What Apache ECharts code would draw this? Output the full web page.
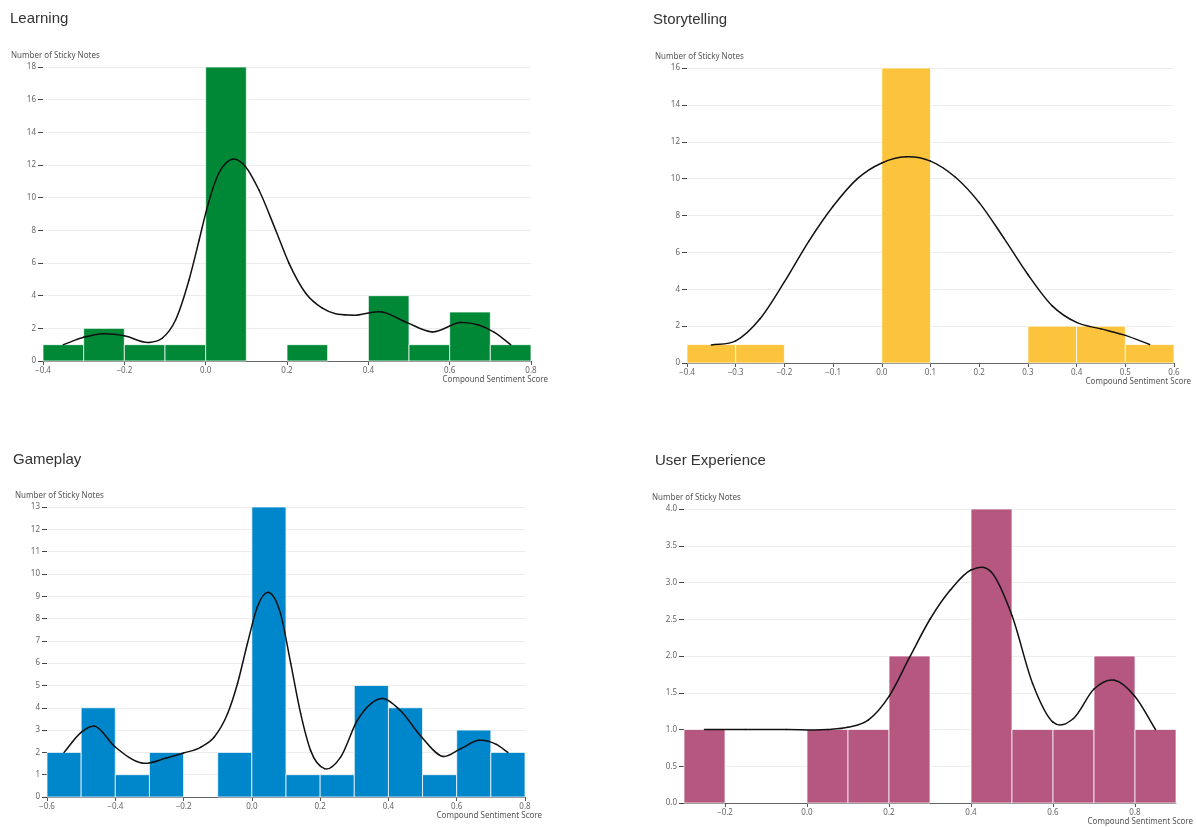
<!DOCTYPE html>
<html>
<head>
<meta charset="utf-8">
<title>Sentiment histograms by theme</title>
<script src="https://cdn.jsdelivr.net/npm/echarts@6/dist/echarts.min.js"></script>
<style>
  html, body { margin: 0; padding: 0; background: #fff; }
  #chart { width: 1197px; height: 827px; }
</style>
</head>
<body>
<div id="chart"></div>
<script>
// ---- Learning ----
const learningBinStarts = [-0.4, -0.3, -0.2, -0.1, 0.0, 0.1, 0.2, 0.3, 0.4, 0.5, 0.6, 0.7];
const learningCounts    = [1, 2, 1, 1, 18, 0, 1, 0, 4, 1, 3, 1];
const learningCurveX = [-0.35, -0.30, -0.25, -0.20, -0.139, -0.107, -0.074, -0.041, -0.016, 0.0, 0.025, 0.065, 0.098, 0.131, 0.172, 0.205, 0.246, 0.287, 0.36, 0.434, 0.495, 0.557, 0.627, 0.671, 0.71, 0.75];
const learningCurveY = [1.0, 1.45, 1.67, 1.55, 1.14, 1.39, 2.51, 4.96, 7.41, 9.04, 11.08, 12.35, 11.9, 10.47, 8.02, 5.98, 4.15, 3.23, 2.8, 3.0, 2.35, 1.78, 2.35, 2.2, 1.75, 1.0];

// ---- Storytelling ----
const storyBinStarts = [-0.4, -0.3, -0.2, -0.1, 0.0, 0.1, 0.2, 0.3, 0.4, 0.5];
const storyCounts    = [1, 1, 0, 0, 16, 0, 0, 2, 2, 1];
const storyCurveX = [-0.35, -0.30, -0.25, -0.20, -0.15, -0.10, -0.05, 0.00, 0.05, 0.10, 0.15, 0.20, 0.25, 0.30, 0.35, 0.40, 0.45, 0.50, 0.55];
const storyCurveY = [0.98, 1.2, 2.4, 4.4, 6.6, 8.5, 10.0, 10.85, 11.18, 10.95, 10.1, 8.7, 6.8, 4.8, 3.1, 2.2, 1.85, 1.5, 1.0];

// ---- Gameplay ----
const gameBinStarts = [-0.6, -0.5, -0.4, -0.3, -0.2, -0.1, 0.0, 0.1, 0.2, 0.3, 0.4, 0.5, 0.6, 0.7];
const gameCounts    = [2, 4, 1, 2, 0, 2, 13, 1, 1, 5, 4, 1, 3, 2];
const gameCurveX = [-0.55, -0.50, -0.462, -0.40, -0.322, -0.25, -0.20, -0.149, -0.110, -0.071, -0.042, -0.013, 0.016, 0.05, 0.084, 0.114, 0.143, 0.172, 0.213, 0.26, 0.309, 0.35, 0.382, 0.434, 0.497, 0.56, 0.612, 0.664, 0.716, 0.75];
const gameCurveY = [2.0, 2.9, 3.18, 2.24, 1.52, 1.75, 1.97, 2.24, 2.69, 3.74, 5.09, 6.88, 8.52, 9.17, 8.22, 5.98, 3.74, 2.09, 1.27, 1.79, 3.44, 4.2, 4.41, 3.89, 2.69, 1.82, 2.17, 2.54, 2.36, 2.0];

// ---- User Experience ----
const uxBinStarts = [-0.3, -0.2, -0.1, 0.0, 0.1, 0.2, 0.3, 0.4, 0.5, 0.6, 0.7, 0.8];
const uxCounts    = [1, 0, 0, 1, 1, 2, 0, 4, 1, 1, 2, 1];
const uxCurveX = [-0.25, -0.15, -0.05, 0.05, 0.10, 0.15, 0.20, 0.25, 0.30, 0.35, 0.40, 0.45, 0.50, 0.55, 0.60, 0.65, 0.70, 0.75, 0.80, 0.85];
const uxCurveY = [1.0, 1.0, 1.0, 1.0, 1.03, 1.13, 1.45, 1.98, 2.5, 2.9, 3.17, 3.14, 2.55, 1.63, 1.1, 1.15, 1.55, 1.67, 1.45, 1.0];

const binWidth = 0.1;
const uxTickValues = [-0.2, 0.0, 0.2, 0.4, 0.6, 0.8];

const SMALL_FONT = '"Noto Sans", "Open Sans", sans-serif';
const TITLE_FONT = '"Liberation Sans", Arial, sans-serif';

const panels = [
  { title: 'Learning', color: '#008837', starts: learningBinStarts, counts: learningCounts, cx: learningCurveX, cy: learningCurveY,
    grid: { left: 43, top: 67, width: 488, height: 294 }, titlePos: [10, 11],
    x: { min: -0.4, max: 0.8, interval: 0.2 }, y: { max: 18, interval: 2, decimals: 0 } },
  { title: 'Storytelling', color: '#fcc43c', starts: storyBinStarts, counts: storyCounts, cx: storyCurveX, cy: storyCurveY,
    grid: { left: 687, top: 68, width: 487, height: 295 }, titlePos: [653, 12],
    x: { min: -0.4, max: 0.6, interval: 0.1 }, y: { max: 16, interval: 2, decimals: 0 } },
  { title: 'Gameplay', color: '#0086cb', starts: gameBinStarts, counts: gameCounts, cx: gameCurveX, cy: gameCurveY,
    grid: { left: 47, top: 507, width: 478, height: 290 }, titlePos: [13, 452],
    x: { min: -0.6, max: 0.8, interval: 0.2 }, y: { max: 13, interval: 1, decimals: 0 } },
  { title: 'User Experience', color: '#b5577f', starts: uxBinStarts, counts: uxCounts, cx: uxCurveX, cy: uxCurveY,
    grid: { left: 684, top: 509, width: 492, height: 294 }, titlePos: [655, 453],
    x: { min: -0.3, max: 0.9, custom: uxTickValues }, y: { max: 4, interval: 0.5, decimals: 1 } }
];

function fmtX(v) {
  const s = Math.abs(v).toFixed(1);
  return v < -1e-9 ? '\u2212' + s : s;
}

// Histogram bin: rectangle from [start, count] to [end, 0] in axis space.
function renderBin(color) {
  return function (params, api) {
    const topLeft = api.coord([api.value(0), api.value(2)]);
    const bottomRight = api.coord([api.value(1), 0]);
    return {
      type: 'rect',
      shape: { x: topLeft[0], y: topLeft[1], width: bottomRight[0] - topLeft[0], height: bottomRight[1] - topLeft[1] },
      style: { fill: color, stroke: 'rgba(255,255,255,0.75)', lineWidth: 1 }
    };
  };
}

// Density curve: cubic Hermite segment between consecutive points.
// Tangents use the three-point estimate for uneven spacing; the
// control points are mapped to pixels through api.coord.
function renderCurveSegment(params, api) {
  const n = params.dataInsideLength;
  const i = params.dataIndexInside;
  if (i >= n - 1) return null;
  const X = function (k) { return api.value(0, k); };
  const Y = function (k) { return api.value(1, k); };
  const slope = function (k) {
    if (k === 0) return (Y(1) - Y(0)) / (X(1) - X(0));
    if (k === n - 1) return (Y(n - 1) - Y(n - 2)) / (X(n - 1) - X(n - 2));
    const h0 = X(k) - X(k - 1), h1 = X(k + 1) - X(k);
    const d0 = (Y(k) - Y(k - 1)) / h0, d1 = (Y(k + 1) - Y(k)) / h1;
    return (d0 * h1 + d1 * h0) / (h0 + h1);
  };
  const x0 = X(i), y0 = Y(i), x1 = X(i + 1), y1 = Y(i + 1);
  const h = x1 - x0;
  const m0 = slope(i), m1 = slope(i + 1);
  const p0 = api.coord([x0, y0]);
  const p1 = api.coord([x1, y1]);
  const c0 = api.coord([x0 + h / 3, y0 + m0 * h / 3]);
  const c1 = api.coord([x1 - h / 3, y1 - m1 * h / 3]);
  return {
    type: 'bezierCurve',
    shape: { x1: p0[0], y1: p0[1], x2: p1[0], y2: p1[1], cpx1: c0[0], cpy1: c0[1], cpx2: c1[0], cpy2: c1[1] },
    style: { stroke: '#111', lineWidth: 1.5, fill: null, lineCap: 'round' }
  };
}

const option = {
  animation: false,
  backgroundColor: '#ffffff',
  title: [],
  grid: [],
  xAxis: [],
  yAxis: [],
  series: []
};

panels.forEach(function (p, i) {
  option.title.push({
    text: p.title,
    left: p.titlePos[0],
    top: p.titlePos[1],
    padding: 0,
    textStyle: { fontFamily: TITLE_FONT, fontSize: 15, fontWeight: 'normal', color: '#333' }
  });

  option.grid.push(Object.assign({ containLabel: false }, p.grid));

  const xAxis = {
    type: 'value',
    gridIndex: i,
    min: p.x.min,
    max: p.x.max,
    name: 'Compound Sentiment Score',
    nameLocation: 'end',
    nameGap: 17,
    nameTextStyle: { fontFamily: SMALL_FONT, fontSize: 8, color: '#555', align: 'right', verticalAlign: 'top', padding: [15, 0, 0, 0] },
    axisLine: { show: true, onZero: false, lineStyle: { color: '#666', width: 1 } },
    axisTick: { show: true, length: 4, lineStyle: { color: '#555' } },
    axisLabel: { fontFamily: SMALL_FONT, fontSize: 8, color: '#666', margin: 6, formatter: fmtX, showMinLabel: true, showMaxLabel: true },
    splitLine: { show: false }
  };
  if (p.x.custom) {
    xAxis.axisLabel.customValues = p.x.custom;
    xAxis.axisTick.customValues = p.x.custom;
  } else {
    xAxis.interval = p.x.interval;
  }
  option.xAxis.push(xAxis);

  option.yAxis.push({
    type: 'value',
    gridIndex: i,
    min: 0,
    max: p.y.max,
    interval: p.y.interval,
    name: 'Number of Sticky Notes',
    nameLocation: 'end',
    nameGap: 11,
    nameTextStyle: { fontFamily: SMALL_FONT, fontSize: 8, color: '#555', align: 'left', verticalAlign: 'middle', padding: [0, 0, 0, -32] },
    axisLine: { show: false, onZero: false },
    axisTick: { show: true, length: 5, lineStyle: { color: '#444' } },
    axisLabel: { fontFamily: SMALL_FONT, fontSize: 8, color: '#666', margin: 7,
      formatter: function (v) { return v.toFixed(p.y.decimals); } },
    splitLine: { show: true, lineStyle: { color: '#ececec', width: 1 } }
  });

  const binData = [];
  p.starts.forEach(function (s, k) {
    if (p.counts[k] > 0) binData.push([s, +(s + binWidth).toFixed(2), p.counts[k]]);
  });

  option.series.push({
    type: 'custom',
    name: p.title + ' bins',
    xAxisIndex: i,
    yAxisIndex: i,
    encode: { x: [0, 1], y: 2 },
    data: binData,
    z: 2,
    renderItem: renderBin(p.color)
  });

  option.series.push({
    type: 'custom',
    name: p.title + ' density',
    xAxisIndex: i,
    yAxisIndex: i,
    encode: { x: 0, y: 1 },
    data: p.cx.map(function (x, k) { return [x, p.cy[k]]; }),
    clip: false,
    z: 5,
    renderItem: renderCurveSegment
  });
});

const chart = echarts.init(document.getElementById('chart'), null, { renderer: 'canvas' });
chart.setOption(option);
</script>
</body>
</html>
